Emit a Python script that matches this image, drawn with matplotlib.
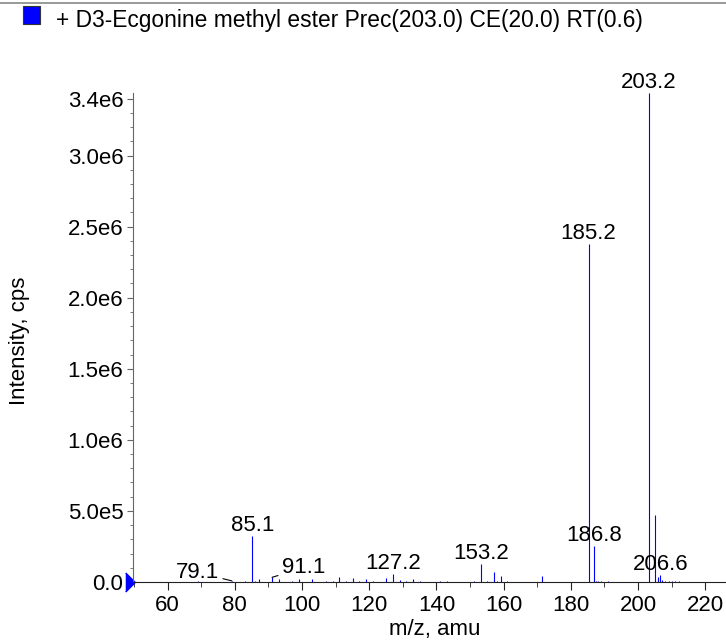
import matplotlib
matplotlib.use('Agg')
import matplotlib.pyplot as plt
from matplotlib.patches import Rectangle
from matplotlib.lines import Line2D

# peak list (m/z, intensity in cps)
mz = [67.1, 69.1, 71.1, 77.1, 79.1, 81.1, 83.1, 85.2, 86.1, 87.1, 91.1, 93.1,
      97.1, 99.1, 103.1, 107.1, 109.1, 111.1, 113.1, 115.1, 117.1, 119.1,
      121.1, 125.1, 127.2, 129.1, 131.1, 133.1, 135.1, 141.1, 143.1, 145.1,
      151.1, 153.3, 155.1, 157.1, 158.1, 159.3, 161.1, 165.1, 171.4, 185.3,
      186.9, 187.5, 188.1, 189.1, 191.1, 194.1, 203.3, 205.0, 206.0, 206.7,
      207.2, 208.1, 209.1, 210.1, 211.1, 212.1]
intensity = [3e3, 4e3, 3e3, 3e3, 8e3, 3e3, 5e3, 3.24e5, 1e4, 1.8e4, 3.3e4, 2e4,
             5e3, 2e4, 2e4, 4e3, 5e3, 3.8e4, 5e3, 2.8e4, 4e3, 2e4,
             5e3, 2.8e4, 5.6e4, 1.2e4, 6e3, 2e4, 8e3, 8e3, 7e3, 3e3,
             4e3, 1.27e5, 6e3, 7e4, 8e3, 4.2e4, 4e3, 3e3, 4.2e4, 2.38e6,
             2.54e5, 1e4, 8e3, 5e3, 4e3, 3e3, 3.44e6, 4.74e5, 3.3e4, 5e4,
             1.2e4, 8e3, 8e3, 1e4, 5e3, 6e3]

# labelled peaks
label_mz = [79.1, 85.2, 91.1, 127.2, 153.3, 185.3, 186.9, 203.3, 206.7]
label_int = [8e3, 3.24e5, 3.3e4, 5.6e4, 1.27e5, 2.38e6, 2.54e5, 3.44e6, 5e4]
label_text = ['79.1', '85.1', '91.1', '127.2', '153.2', '185.2', '186.8', '203.2', '206.6']

title = '+ D3-Ecgonine methyl ester Prec(203.0) CE(20.0) RT(0.6)'
yticks = [0, 5e5, 1e6, 1.5e6, 2e6, 2.5e6, 3e6, 3.4e6]
ytick_labels = ['0.0', '5.0e5', '1.0e6', '1.5e6', '2.0e6', '2.5e6', '3.0e6', '3.4e6']
xticks = [60, 80, 100, 120, 140, 160, 180, 200, 220]

plt.rcParams['font.family'] = ['Liberation Sans', 'DejaVu Sans']
plt.rcParams['font.size'] = 16

W, H = 726, 640
fig = plt.figure(figsize=(W / 100, H / 100), dpi=100)
ax = fig.add_axes([133 / W, (H - 582) / H, (W - 133) / W, (582 - 93) / H])

ax.vlines(mz, 0, intensity, colors='#0000ff', lw=0.8)
ax.set_xlim(49.7, 226.2)
ax.set_ylim(0, 3.44e6)

ax.spines['top'].set_visible(False)
ax.spines['right'].set_visible(False)
ax.spines['left'].set_color('#666666')
ax.spines['bottom'].set_color('#222222')

ax.set_xticks(xticks)
ax.set_xticks(list(range(50, 230, 10)), minor=True)
ax.set_yticks(yticks)
ax.set_yticklabels(ytick_labels)
ax.set_yticks([i * 1e5 for i in range(35)], minor=True)
ax.tick_params(axis='x', which='major', length=6, pad=3.5, colors='#222222', labelcolor='black')
ax.tick_params(axis='x', which='minor', length=3.5, colors='#222222')
ax.tick_params(axis='y', which='major', length=4.5, pad=2.4, colors='#666666', labelcolor='black')
ax.tick_params(axis='y', which='minor', length=2.4, colors='#666666')

for x, y, t in zip(label_mz, label_int, label_text):
    if t == '79.1':
        ax.annotate(t, (x, y), xytext=(-13, 3), textcoords='offset pixels',
                    ha='right', va='baseline',
                    arrowprops=dict(arrowstyle='-', color='black', lw=0.8, shrinkA=1, shrinkB=0))
    elif t == '91.1':
        ax.annotate(t, (x, y), xytext=(10, 4), textcoords='offset pixels',
                    ha='left', va='baseline',
                    arrowprops=dict(arrowstyle='-', color='black', lw=0.8, shrinkA=1, shrinkB=0))
    else:
        ax.annotate(t, (x, y), xytext=(0, 5), textcoords='offset pixels',
                    ha='center', va='baseline')

# blue marker at the zero level on the left
ax.plot([-0.005], [0], marker=[(-0.5, -1), (0.5, 0), (-0.5, 1)], ms=13.7,
        color='#0000ff', transform=ax.get_yaxis_transform(), clip_on=False)

fig.text(20 / W, 1 - 341 / H, 'Intensity, cps', rotation=90, ha='center', va='center')
fig.text(434.5 / W, 1 - 635 / H, 'm/z, amu', ha='center', va='baseline')

# header
fig.add_artist(Line2D([0, 1], [1 - 2.7 / H, 1 - 2.7 / H], color='#888888', lw=1.2))
fig.add_artist(Rectangle((23 / W, 1 - 24 / H), 17 / W, 18 / H, facecolor='#0000ff',
                         edgecolor='#333333', lw=0.8))
fig.text(56 / W, 1 - 26.7 / H, title, ha='left', va='baseline', fontsize=16.4)

fig.savefig('out.png', dpi=100)
